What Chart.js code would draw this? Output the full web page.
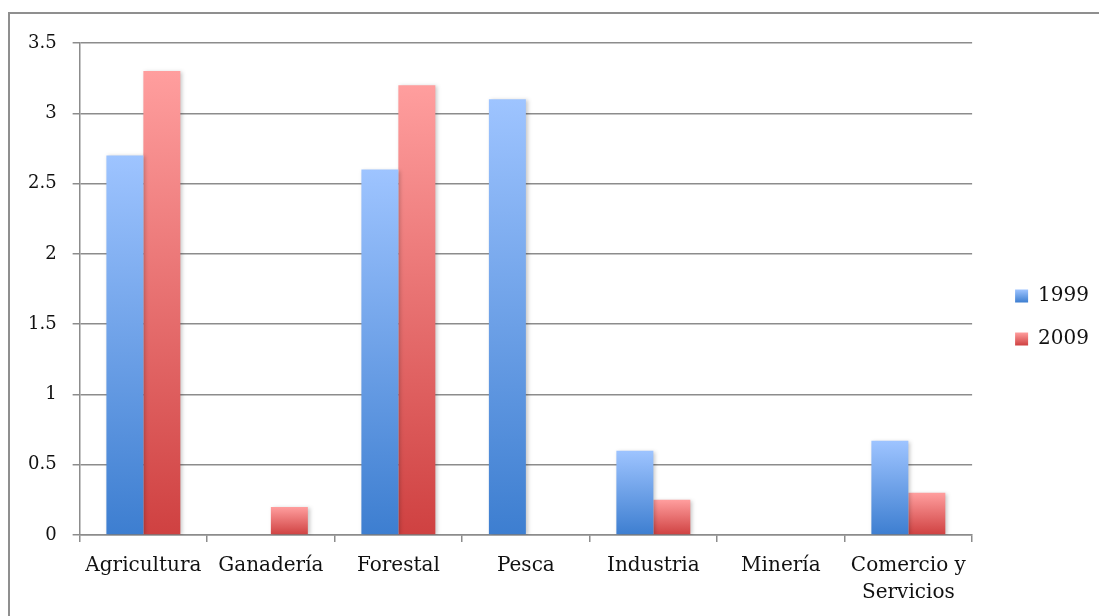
<!DOCTYPE html>
<html>
<head>
<meta charset="utf-8">
<script src="https://cdn.jsdelivr.net/npm/chart.js@4.4.1/dist/chart.umd.min.js"></script>
<style>
  html, body { margin: 0; padding: 0; background: #fff; overflow: hidden; }
  #wrap { position: relative; width: 1099px; height: 616px; }
  #frame { position: absolute; left: 8px; top: 12px; width: 1200px; height: 700px;
           border-left: 2px solid #8f8f8f; border-top: 2px solid #8f8f8f; pointer-events: none; }
  canvas { position: absolute; left: 0; top: 0; }
</style>
</head>
<body>
<div id="wrap">
  <canvas id="c" width="1099" height="616"></canvas>
  <div id="frame"></div>
</div>
<script>
const categories = ['Agricultura', 'Ganadería', 'Forestal', 'Pesca', 'Industria', 'Minería', ['Comercio y', 'Servicios']];
const values1999 = [2.7, 0, 2.6, 3.1, 0.6, 0, 0.67];
const values2009 = [3.3, 0.2, 3.2, 0, 0.25, 0, 0.3];
const seriesNames = ['1999', '2009'];
const yTicks = [0, 0.5, 1, 1.5, 2, 2.5, 3, 3.5];

const blueTop = '#9ec4ff', blueBottom = '#3d7ed0';
const redTop = '#ff9e9e', redBottom = '#cf4141';

function barGradient(top, bottom) {
  return (ctx) => {
    const chart = ctx.chart;
    if (ctx.type !== 'data' || !chart.chartArea || !chart.scales.y) return bottom;
    const ys = chart.scales.y;
    const y0 = ys.getPixelForValue(0);
    const y1 = ys.getPixelForValue(ctx.raw);
    if (!isFinite(y0) || !isFinite(y1) || y0 === y1) return bottom;
    const g = chart.ctx.createLinearGradient(0, y1, 0, y0);
    g.addColorStop(0, top);
    g.addColorStop(1, bottom);
    return g;
  };
}

const shadowPlugin = {
  id: 'barShadow',
  beforeDatasetsDraw(chart) {
    const c = chart.ctx;
    c.save();
    c.shadowColor = 'rgba(0,0,0,0.22)';
    c.shadowBlur = 4;
    c.shadowOffsetX = 2;
    c.shadowOffsetY = 1;
  },
  afterDatasetsDraw(chart) { chart.ctx.restore(); }
};

const legendShiftPlugin = {
  id: 'legendShift',
  afterLayout(chart) {
    const lg = chart.legend;
    if (!lg) return;
    lg.top -= 12;
    lg.bottom -= 12;
  }
};

const legendGradientPlugin = {
  id: 'legendGradient',
  afterDraw(chart) {
    const lg = chart.legend;
    if (!lg || !lg.legendHitBoxes) return;
    const c = chart.ctx;
    const bw = lg.options.labels.boxWidth, bh = lg.options.labels.boxHeight;
    const cols = [[blueTop, blueBottom], [redTop, redBottom]];
    lg.legendHitBoxes.forEach((hb, i) => {
      const x = hb.left;
      const y = hb.top + (hb.height - bh) / 2;
      const g = c.createLinearGradient(0, y, 0, y + bh);
      g.addColorStop(0, cols[i][0]);
      g.addColorStop(1, cols[i][1]);
      c.save();
      c.fillStyle = '#fff';
      c.fillRect(x - 1, y - 1, bw + 2, bh + 2);
      c.fillStyle = g;
      c.fillRect(x, y, bw, bh);
      c.restore();
    });
  }
};

const gridColor = '#8c8c8c';

new Chart(document.getElementById('c'), {
  type: 'bar',
  data: {
    labels: categories,
    datasets: [
      { label: seriesNames[0], data: values1999, backgroundColor: barGradient(blueTop, blueBottom),
        categoryPercentage: 0.58, barPercentage: 1.0, borderWidth: 0 },
      { label: seriesNames[1], data: values2009, backgroundColor: barGradient(redTop, redBottom),
        categoryPercentage: 0.58, barPercentage: 1.0, borderWidth: 0 }
    ]
  },
  options: {
    responsive: false,
    animation: false,
    devicePixelRatio: 1,
    layout: { padding: { top: 43, bottom: 0, left: 12, right: 0 } },
    plugins: {
      tooltip: { enabled: false },
      legend: {
        position: 'right',
        labels: {
          boxWidth: 13, boxHeight: 13, padding: 23,
          color: '#111',
          font: { family: 'DejaVu Serif', size: 20 }
        }
      }
    },
    scales: {
      x: {
        grid: { display: true, drawOnChartArea: false, drawTicks: true, tickLength: 7, color: gridColor, lineWidth: 1.5, offset: true },
        border: { display: true, color: gridColor, width: 1.5 },
        ticks: { color: '#111', font: { family: 'DejaVu Serif', size: 20, lineHeight: 1.35 }, padding: 10, maxRotation: 0, autoSkip: false }
      },
      y: {
        min: 0, max: 3.5,
        afterBuildTicks(axis) { axis.ticks = yTicks.map(v => ({ value: v })); },
        grid: { color: gridColor, lineWidth: 1.5, tickLength: 7, drawTicks: true },
        border: { display: true, color: gridColor, width: 1.5 },
        ticks: { color: '#111', font: { family: 'DejaVu Serif', size: 18 }, padding: 16,
                 callback: (v) => String(v) }
      },
      spacer: {
        type: 'linear', position: 'right', display: true,
        grid: { display: false }, border: { display: false }, ticks: { display: false },
        afterFit(axis) { axis.width = 20; }
      }
    }
  },
  plugins: [shadowPlugin, legendShiftPlugin, legendGradientPlugin]
});
</script>
</body>
</html>
